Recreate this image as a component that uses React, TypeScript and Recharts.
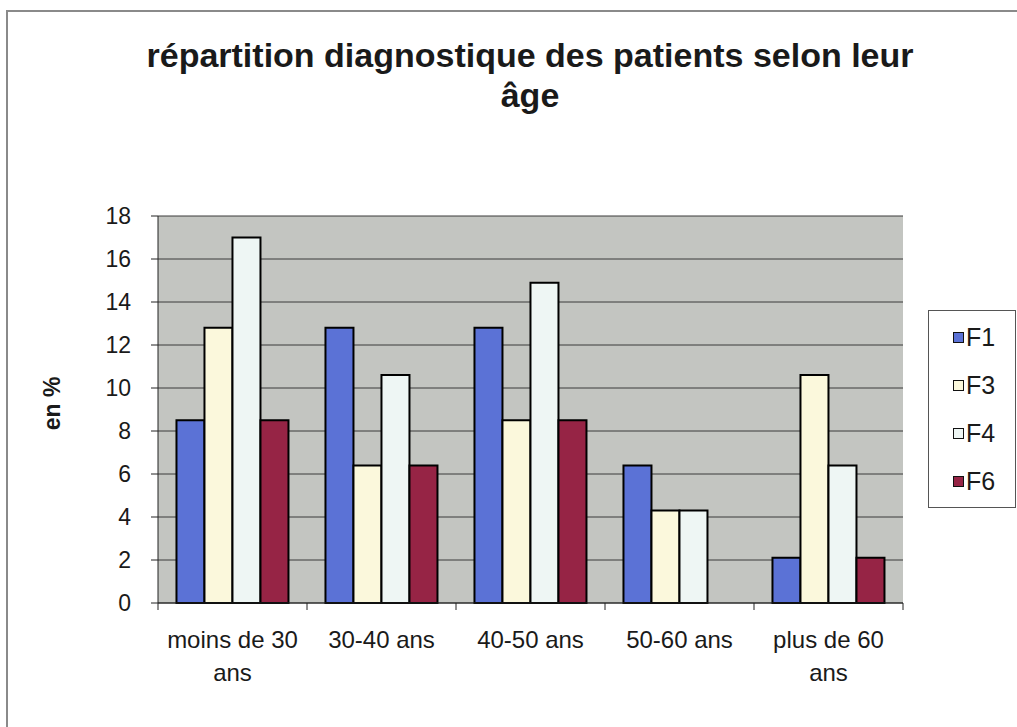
import React from 'react';
import { BarChart, Bar, XAxis, YAxis, CartesianGrid, Legend } from 'recharts';

const categories = ['moins de 30 ans', '30-40 ans', '40-50 ans', '50-60 ans', 'plus de 60 ans'];
const seriesNames = ['F1', 'F3', 'F4', 'F6'];
const f1Values = [8.5, 12.8, 12.8, 6.4, 2.1];
const f3Values = [12.8, 6.4, 8.5, 4.3, 10.6];
const f4Values = [17.0, 10.6, 14.9, 4.3, 6.4];
const f6Values = [8.5, 6.4, 8.5, 0, 2.1];
const yTicks = [0, 2, 4, 6, 8, 10, 12, 14, 16, 18];

const colors = ['#5b72d6', '#fbf8dc', '#eef6f4', '#962445'];
const FONT = '"Liberation Sans", Arial, Helvetica, sans-serif';

const data = categories.map((c, i) => ({
  cat: c,
  F1: f1Values[i],
  F3: f3Values[i],
  F4: f4Values[i],
  F6: f6Values[i],
}));

const wrapLabel = (s: string): string[] => {
  const words = String(s).split(' ');
  if (words.length > 2) {
    return [words.slice(0, -1).join(' '), words[words.length - 1]];
  }
  return [String(s)];
};

const XTick = (props: any) => {
  const { x, y, payload, index, visibleTicksCount } = props;
  const half = payload && typeof payload.offset === 'number' && payload.offset > 0 ? payload.offset : 74.5;
  const isLast = index === (visibleTicksCount ?? categories.length) - 1;
  const lines = wrapLabel(payload.value);
  return (
    <g>
      <line x1={x - half} x2={x - half} y1={y} y2={y + 7} stroke="#222" strokeWidth={1} />
      {isLast && <line x1={x + half} x2={x + half} y1={y} y2={y + 7} stroke="#222" strokeWidth={1} />}
      <text textAnchor="middle" style={{ fontSize: 24, fontFamily: FONT, fill: '#1a1a1a' }}>
        {lines.map((l, i) => (
          <tspan key={i} x={x} y={y + 45 + i * 33}>
            {l}
          </tspan>
        ))}
      </text>
    </g>
  );
};

const renderLegend = (props: any) => {
  const { payload } = props;
  return (
    <div
      style={{
        width: 88,
        height: 198,
        boxSizing: 'border-box',
        border: '1.5px solid #555',
        background: '#fff',
        paddingTop: 14,
        paddingLeft: 24,
        display: 'flex',
        flexDirection: 'column',
        gap: 24,
      }}
    >
      {(payload || []).map((p: any) => (
        <div
          key={p.value}
          style={{ display: 'flex', alignItems: 'center', height: 24, fontSize: 25, fontFamily: FONT, color: '#1a1a1a' }}
        >
          <span
            style={{
              display: 'inline-block',
              width: 9,
              height: 9,
              border: '1px solid #111',
              background: p.color,
              marginRight: 2,
            }}
          />
          {p.value}
        </div>
      ))}
    </div>
  );
};

const YLabel = (props: any) => {
  const vb = props.viewBox || { x: 98, y: 216, width: 60, height: 387 };
  const cx = vb.x - 46;
  const cy = vb.y + vb.height / 2 - 6;
  return (
    <text
      x={cx}
      y={cy}
      transform={`rotate(-90 ${cx} ${cy})`}
      textAnchor="middle"
      dominantBaseline="central"
      style={{ fontSize: 23, fontWeight: 700, fontFamily: FONT, fill: '#1a1a1a' }}
    >
      en %
    </text>
  );
};

export default function App() {
  return (
    <div
      style={{
        position: 'absolute',
        left: 0,
        top: 0,
        width: 1017,
        height: 727,
        overflow: 'hidden',
        background: '#fff',
      }}
    >
      <div
        style={{
          position: 'absolute',
          left: 6,
          top: 10,
          width: 1100,
          height: 800,
          borderLeft: '2px solid #8a8a8a',
          borderTop: '2px solid #8a8a8a',
        }}
      />
      <div
        style={{
          position: 'absolute',
          left: 130,
          top: 35,
          width: 800,
          textAlign: 'center',
          fontFamily: FONT,
          fontWeight: 700,
          fontSize: 34,
          lineHeight: '40px',
          color: '#1a1a1a',
        }}
      >
        répartition diagnostique des patients selon leur âge
      </div>
      <div style={{ position: 'absolute', left: 0, top: 0 }}>
        <BarChart
          width={1017}
          height={727}
          data={data}
          margin={{ top: 216, right: 114, bottom: 20, left: 98 }}
          barCategoryGap="12.4%"
          barGap={0}
        >
          <CartesianGrid vertical={false} stroke="#3a3a3a" strokeWidth={1} fill="#c3c5c1" fillOpacity={1} />
          <XAxis
            dataKey="cat"
            height={104}
            tickLine={false}
            tickSize={0}
            tickMargin={0}
            interval={0}
            axisLine={{ stroke: '#222', strokeWidth: 1 }}
            tick={<XTick />}
          />
          <YAxis
            width={60}
            domain={[0, 18]}
            ticks={yTicks}
            interval={0}
            tickSize={7}
            tickMargin={20}
            axisLine={{ stroke: '#222', strokeWidth: 1 }}
            tickLine={{ stroke: '#222', strokeWidth: 1 }}
            tick={{ fontSize: 23, fontFamily: FONT, fill: '#1a1a1a' }}
            label={{ content: <YLabel /> }}
          />
          <Legend
            layout="horizontal"
            align="center"
            verticalAlign="middle"
            content={renderLegend}
            wrapperStyle={{ position: 'absolute', left: 928, top: 310, width: 88, height: 198 }}
          />
          {seriesNames.map((s, i) => (
            <Bar
              key={s}
              dataKey={s}
              name={s}
              fill={colors[i]}
              stroke="#000"
              strokeWidth={2}
              isAnimationActive={false}
            />
          ))}
        </BarChart>
      </div>
    </div>
  );
}
